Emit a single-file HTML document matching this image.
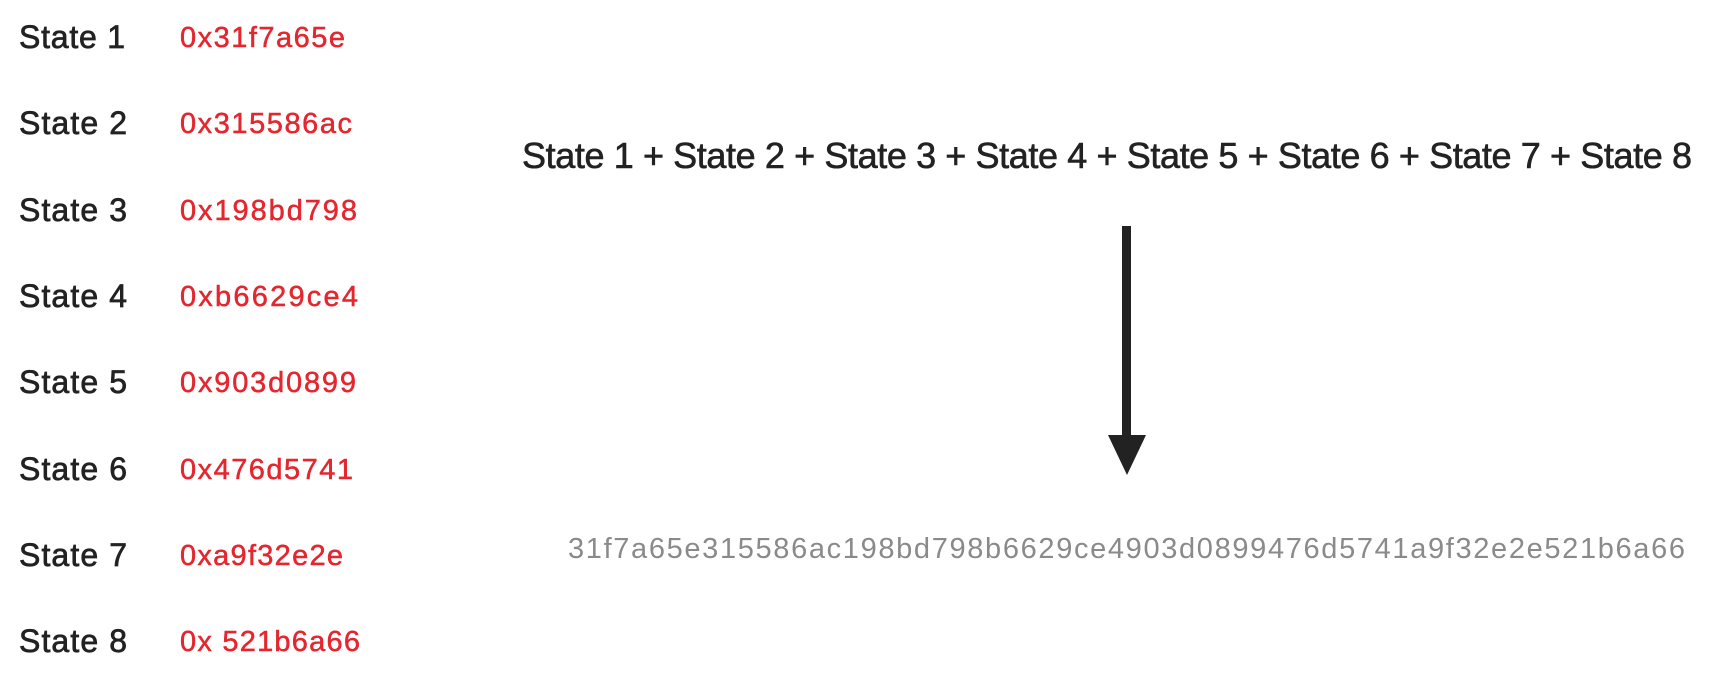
<!DOCTYPE html>
<html><head><meta charset="utf-8"><style>
html,body{margin:0;padding:0;background:#fff;}
svg{display:block;}
</style></head><body>
<svg width="1714" height="688" viewBox="0 0 1714 688" xmlns="http://www.w3.org/2000/svg">
<g font-family="Liberation Sans, sans-serif" fill="#222" stroke="#222" stroke-width="0.7" font-size="32">
<text x="19" y="48" textLength="106">State 1</text>
<text x="19" y="134" textLength="108">State 2</text>
<text x="19" y="221" textLength="108">State 3</text>
<text x="19" y="307" textLength="108">State 4</text>
<text x="19" y="393" textLength="108">State 5</text>
<text x="19" y="480" textLength="108">State 6</text>
<text x="19" y="566" textLength="108">State 7</text>
<text x="19" y="652" textLength="108">State 8</text>
</g>
<g font-family="Liberation Sans, sans-serif" fill="#e4262f" stroke="#e4262f" stroke-width="0.5" font-size="29">
<text x="180" y="47" textLength="165">0x31f7a65e</text>
<text x="180" y="133" textLength="172">0x315586ac</text>
<text x="180" y="220" textLength="177">0x198bd798</text>
<text x="180" y="306" textLength="178">0xb6629ce4</text>
<text x="180" y="392" textLength="176">0x903d0899</text>
<text x="180" y="479" textLength="173">0x476d5741</text>
<text x="180" y="565" textLength="163">0xa9f32e2e</text>
<text x="180" y="651" textLength="180">0x 521b6a66</text>
</g>
<text x="522" y="168" font-family="Liberation Sans, sans-serif" font-size="36" fill="#222" stroke="#222" stroke-width="0.6" textLength="1170">State 1 + State 2 + State 3 + State 4 + State 5 + State 6 + State 7 + State 8</text>
<rect x="1122" y="226" width="9" height="212" fill="#222"/>
<polygon points="1108,435 1146,435 1127,475" fill="#222"/>
<text x="568" y="558" font-family="Liberation Sans, sans-serif" font-size="29" fill="#8a8a8a" textLength="1117">31f7a65e315586ac198bd798b6629ce4903d0899476d5741a9f32e2e521b6a66</text>
</svg>
</body></html>
